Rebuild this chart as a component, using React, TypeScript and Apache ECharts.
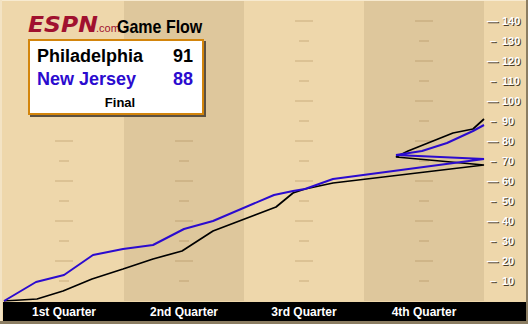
import React, { useEffect, useRef } from 'react';
import * as echarts from 'echarts';

const quarterLabels = ['1st Quarter', '2nd Quarter', '3rd Quarter', '4th Quarter'];
const quarterMid = [6, 18, 30, 42];
const darkQuarters = [[12, 24], [36, 48]];

// minutes elapsed (OT replotted from 39.2) and running scores
const phiMinutes = [0, 3.3, 5.9, 8.8, 11.9, 14.9, 17.8, 20.9, 27.2, 28.9, 30.1, 32.9, 48, 39.2, 40.4, 42.9, 44.9, 46.9, 48];
const phiScores = [0, 1, 5, 11, 16, 21, 25, 35, 47, 54, 56, 59, 68, 72, 75, 80, 84, 86, 91];
const njMinutes = [0, 3.2, 6.0, 8.9, 11.9, 14.9, 18.0, 20.9, 27.0, 28.9, 30.1, 32.9, 48, 39.2, 41.8, 44.3, 46.9, 48];
const njScores = [0, 9.5, 13, 23, 26, 28, 36, 40, 53, 55, 56, 61, 71, 73, 75, 79, 85, 88];

const yTicks = [10, 20, 30, 40, 50, 60, 70, 80, 90, 100, 110, 120, 130, 140];
const teams = ['Philadelphia', 'New Jersey'];
const finalScores = [91, 88];
const gameStatus = 'Final';

const LIGHT = '#EED7AB';
const DARK = '#DEC79C';
const BLUE = '#2B0BCF';
const SANS = '"Liberation Sans", Arial, sans-serif';

function yAxisFor(color: string, margin: number, padTop: number, z: number) {
  const tok = { color, fontFamily: SANS, fontWeight: 'bold', fontSize: 11 };
  return {
    type: 'value', position: 'right', min: 0, max: 150, interval: 10, z,
    axisLine: { show: false }, axisTick: { show: false }, splitLine: { show: false },
    axisLabel: {
      margin,
      formatter: (v: number) => {
        if (v === 0 || v === 150) return '';
        return v % 20 === 0 ? `{l|—}{n|${v}}` : `{s|–}{n|${v}}`;
      },
      rich: {
        l: { ...tok, width: 15, padding: [padTop, 0, 0, 0] },
        s: { ...tok, width: 12, padding: [padTop, 0, 0, 3] },
        n: { ...tok, padding: [padTop, 0, 0, 0] },
      },
    },
  };
}

export default function App() {
  const ref = useRef<HTMLDivElement>(null);
  useEffect(() => {
    if (!ref.current) return;
    const chart = echarts.init(ref.current, undefined, { renderer: 'svg' });
    const dashes: any[] = [];
    quarterMid.forEach((m, q) => {
      yTicks.forEach((v) => {
        if (q < 2 && v > 80) return;
        dashes.push([m, v, v % 20 === 0 ? 1 : 0]);
      });
    });
    const mid = { textVerticalAlign: 'middle', verticalAlign: 'middle' };
    chart.setOption({
      animation: false,
      backgroundColor: LIGHT,
      grid: { left: 4, right: 44, top: 1, bottom: 23 },
      xAxis: {
        type: 'value', min: 0, max: 48, interval: 6, z: 10,
        axisLine: { show: false }, axisTick: { show: false }, splitLine: { show: false },
        axisLabel: {
          margin: 5, color: '#fff', fontFamily: SANS, fontWeight: 'bold', fontSize: 12,
          showMinLabel: true, showMaxLabel: true,
          formatter: (v: number) => {
            const i = quarterMid.indexOf(v);
            return i >= 0 ? quarterLabels[i] : '';
          },
        },
      },
      yAxis: [yAxisFor('#4a3c28', 4, 2, 10), yAxisFor('#ffffff', 3, 0, 11)],
      series: [
        {
          type: 'line', data: [[0, 0]], z: 0, silent: true, showSymbol: false,
          lineStyle: { opacity: 0 },
          markArea: {
            silent: true,
            itemStyle: { color: DARK },
            data: darkQuarters.map(([a, b]) => [{ xAxis: a }, { xAxis: b }]),
          },
        },
        {
          type: 'scatter', z: 1, silent: true,
          data: dashes,
          symbol: 'rect',
          symbolSize: (val: number[]) => (val[2] ? [18, 2] : [10, 2]),
          itemStyle: { color: 'rgba(150,110,60,0.25)' },
        },
        {
          name: teams[0], type: 'line', z: 2, showSymbol: false,
          data: phiMinutes.map((t, i) => [t, phiScores[i]]),
          lineStyle: { color: '#000', width: 1.7 },
        },
        {
          name: teams[1], type: 'line', z: 3, showSymbol: false,
          data: njMinutes.map((t, i) => [t, njScores[i]]),
          lineStyle: { color: BLUE, width: 2 },
        },
      ],
      graphic: [
        { type: 'rect', z: 1, shape: { x: 0, y: 0, width: 528, height: 1 }, style: { fill: '#F7EAD0' } },
        { type: 'rect', z: 1, shape: { x: 0, y: 0, width: 2, height: 324 }, style: { fill: '#F3E3C4' } },
        { type: 'rect', z: 1, shape: { x: 3, y: 302, width: 523, height: 19 }, style: { fill: '#000' } },
        { type: 'rect', z: 1, shape: { x: 526, y: 0, width: 2, height: 324 }, style: { fill: '#8B7D62' } },
        { type: 'rect', z: 1, shape: { x: 0, y: 321, width: 528, height: 3 }, style: { fill: '#8B7D62' } },
        // logo
        { type: 'text', z: 20, x: 28, y: 24, scaleX: 1.12, style: { text: 'ESPN', fill: '#A0112F', font: 'italic 900 21px "DejaVu Sans", sans-serif', ...mid } },
        { type: 'text', z: 20, x: 96, y: 28, style: { text: '.com', fill: '#A0112F', font: '11px ' + SANS, ...mid } },
        { type: 'text', z: 20, x: 117, y: 26.5, scaleY: 1.15, style: { text: 'Game Flow', fill: '#000', font: 'bold 16px ' + SANS, ...mid } },
        // score box
        { type: 'rect', z: 20, shape: { x: 30, y: 41, width: 176, height: 76 }, style: { fill: '#5C5141' } },
        { type: 'rect', z: 21, shape: { x: 29, y: 40, width: 174, height: 74 }, style: { fill: '#fff', stroke: '#D3850C', lineWidth: 2 } },
        { type: 'text', z: 22, x: 37, y: 56, style: { text: teams[0], fill: '#000', font: 'bold 18px ' + SANS, ...mid } },
        { type: 'text', z: 22, x: 193, y: 56, style: { text: String(finalScores[0]), fill: '#000', font: 'bold 18px ' + SANS, textAlign: 'right', align: 'right', ...mid } },
        { type: 'text', z: 22, x: 37, y: 78.5, style: { text: teams[1], fill: BLUE, font: 'bold 18px ' + SANS, ...mid } },
        { type: 'text', z: 22, x: 193, y: 78.5, style: { text: String(finalScores[1]), fill: BLUE, font: 'bold 18px ' + SANS, textAlign: 'right', align: 'right', ...mid } },
        { type: 'text', z: 22, x: 120, y: 102, style: { text: gameStatus, fill: '#000', font: 'bold 13px ' + SANS, textAlign: 'center', align: 'center', ...mid } },
      ],
    });
    return () => chart.dispose();
  }, []);
  return <div ref={ref} style={{ position: 'absolute', left: 0, top: 0, width: 528, height: 324 }} />;
}
